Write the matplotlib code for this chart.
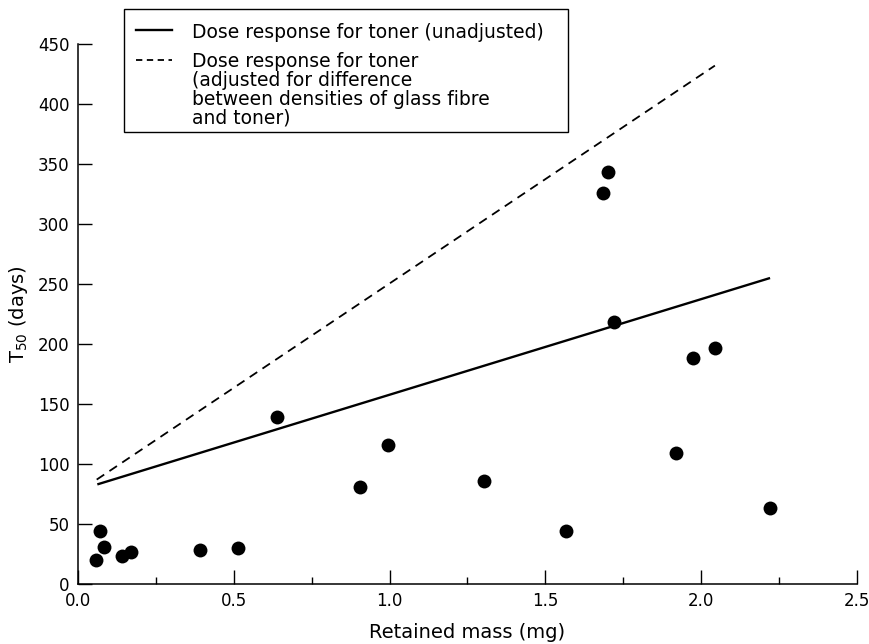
import matplotlib
matplotlib.use("Agg")
import matplotlib.pyplot as plt
from matplotlib.ticker import MultipleLocator
from matplotlib.lines import Line2D
from matplotlib.patches import Rectangle

# Data
mass_mg = [0.058, 0.071, 0.083, 0.141, 0.169, 0.393, 0.513, 0.639,
           0.904, 0.995, 1.304, 1.567, 1.686, 1.700, 1.721, 1.920,
           1.975, 2.043, 2.221]
t50_days = [20, 44, 31, 23, 27, 28, 30, 139,
            81, 116, 86, 44, 326, 343, 218, 109,
            188, 197, 63]

unadj_x = [0.062, 2.221]
unadj_y = [83, 255]
adj_x = [0.060, 2.044]
adj_y = [87, 432]

xticks = [0.0, 0.5, 1.0, 1.5, 2.0, 2.5]
yticks = [0, 50, 100, 150, 200, 250, 300, 350, 400, 450]

legend_label_1 = "Dose response for toner (unadjusted)"
legend_label_2 = ("Dose response for toner\n(adjusted for difference\n"
                  "between densities of glass fibre\nand toner)")

plt.rcParams['font.family'] = ['DejaVu Sans']

W, H = 870, 644
fig = plt.figure(figsize=(W / 100, H / 100), dpi=100)
ax = fig.add_axes([78 / W, 1 - 584 / H, 779 / W, 540 / H])

ax.plot(unadj_x, unadj_y, color='black', lw=1.7, solid_capstyle='butt')
ax.plot(adj_x, adj_y, color='black', lw=1.3, ls=(0, (5, 3.5)))
ax.scatter(mass_mg, t50_days, s=100, color='black', zorder=3, linewidths=0)

ax.set_xlim(0, 2.5)
ax.set_ylim(0, 450)
ax.set_xticks(xticks)
ax.set_xticklabels([f"{v:.1f}" for v in xticks])
ax.set_yticks(yticks)
ax.xaxis.set_minor_locator(MultipleLocator(0.25))
ax.tick_params(axis='both', which='major', direction='in', length=10, width=1,
               labelsize=12, colors='black')
ax.tick_params(axis='x', which='minor', direction='in', length=5, width=1)
ax.tick_params(axis='x', pad=6)
ax.tick_params(axis='y', pad=6)
for s in ['top', 'right']:
    ax.spines[s].set_visible(False)
for s in ['left', 'bottom']:
    ax.spines[s].set_linewidth(1.1)

ax.set_xlabel("Retained mass (mg)", fontsize=14, labelpad=9)
ax.set_ylabel("T$_{50}$ (days)", fontsize=14, labelpad=6)


def fx(x):
    return x / W


def fy(y):
    return 1 - y / H


# Legend box drawn in figure pixel positions
fig.patches.append(Rectangle((fx(124), fy(132)), fx(568) - fx(124), fy(9) - fy(132),
                             transform=fig.transFigure, fill=False,
                             edgecolor='black', lw=1.0))
fig.lines.append(Line2D([fx(136), fx(172)], [fy(30), fy(30)], transform=fig.transFigure,
                        color='black', lw=1.7))
fig.lines.append(Line2D([fx(136), fx(172)], [fy(60), fy(60)], transform=fig.transFigure,
                        color='black', lw=1.3, ls=(0, (3.5, 2.5))))
fig.text(fx(192), fy(30), legend_label_1, fontsize=13.5, ha='left', va='center_baseline')
fig.text(fx(192), fy(52), legend_label_2, fontsize=13.5, ha='left', va='top',
         linespacing=1.0)

fig.savefig("out.png", dpi=100)
